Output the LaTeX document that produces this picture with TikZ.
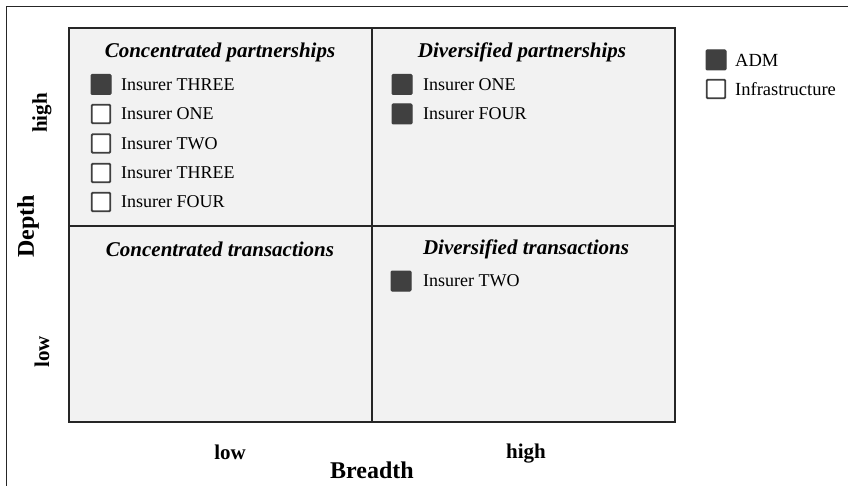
\documentclass[tikz,border=0pt]{standalone}
\usepackage{fontspec}
\setmainfont{Liberation Serif}
\begin{document}
\begin{tikzpicture}[x=1pt,y=-1pt,
  quad/.style={fill=quadfill,draw=gridline,line width=2pt},
  qtitle/.style={font=\fontsize{21}{23}\selectfont\bfseries\itshape,anchor=center,inner sep=0pt},
  item/.style={font=\fontsize{18}{20}\selectfont,anchor=west,inner sep=0pt},
  legtext/.style={font=\fontsize{18.5}{20}\selectfont,anchor=west,inner sep=0pt},
  adm/.style={fill=boxdark,draw=boxdark,line width=1pt,rounded corners=1pt,minimum width=20pt,minimum height=20pt,inner sep=0pt},
  infra/.style={fill=white,draw=boxdark,line width=1.8pt,rounded corners=1pt,minimum width=18.5pt,minimum height=18.5pt,inner sep=0pt},
  axlab/.style={font=\fontsize{21}{23}\selectfont\bfseries,inner sep=0pt},
  axtitle/.style={font=\fontsize{24}{26}\selectfont\bfseries,inner sep=0pt}]
\definecolor{quadfill}{HTML}{F2F2F2}
\definecolor{gridline}{HTML}{262626}
\definecolor{boxdark}{HTML}{404040}
\useasboundingbox (0,0) rectangle (848,486);
% outer frame
\draw[gridline,line width=1.5pt] (6.5,490) -- (6.5,6.5) -- (852,6.5);
% quadrants
\node[quad,minimum width=303pt,minimum height=198pt,inner sep=0pt,anchor=north west] (q1) at (68,27) {};
\node[quad,minimum width=303pt,minimum height=198pt,inner sep=0pt,anchor=north west] (q2) at (371,27) {};
\node[quad,minimum width=303pt,minimum height=196pt,inner sep=0pt,anchor=north west] (q3) at (68,225) {};
\node[quad,minimum width=303pt,minimum height=196pt,inner sep=0pt,anchor=north west] (q4) at (371,225) {};
% titles
\node[qtitle] (t1) at (220,52) {Concentrated partnerships};
\node[qtitle] (t2) at (522,52) {Diversified partnerships};
\node[qtitle] (t3) at (220,249) {Concentrated transactions};
\node[qtitle] (t4) at (526,249) {Diversified transactions};
% Q1 items
\node[adm] (b11) at (101,84.5) {};
\node[item] (l11) at (121,84.5) {Insurer THREE};
\node[infra] (b12) at (101,114) {};
\node[item] (l12) at (121,114) {Insurer ONE};
\node[infra] (b13) at (101,143.5) {};
\node[item] (l13) at (121,143.5) {Insurer TWO};
\node[infra] (b14) at (101,173) {};
\node[item] (l14) at (121,173) {Insurer THREE};
\node[infra] (b15) at (101,202) {};
\node[item] (l15) at (121,202) {Insurer FOUR};
% Q2 items
\node[adm] (b21) at (402,84.5) {};
\node[item] (l21) at (423,84.5) {Insurer ONE};
\node[adm] (b22) at (402,114) {};
\node[item] (l22) at (423,114) {Insurer FOUR};
% Q4 items
\node[adm] (b41) at (401,281) {};
\node[item] (l41) at (423,281) {Insurer TWO};
% legend
\node[adm] (lg1) at (716,60) {};
\node[legtext] (lt1) at (735,60) {ADM};
\node[infra] (lg2) at (716,89) {};
\node[legtext] (lt2) at (735,89) {Infrastructure};
% axes labels
\node[axlab,rotate=90] (dh) at (42,113) {high};
\node[axtitle,rotate=90] (dep) at (28,226) {Depth};
\node[axlab,rotate=90] (dl) at (42,352) {low};
\node[axlab] (bl) at (230,452) {low};
\node[axlab] (bh) at (526,454) {high};
\node[axtitle] (br) at (372,470) {Breadth};
\end{tikzpicture}
\end{document}
